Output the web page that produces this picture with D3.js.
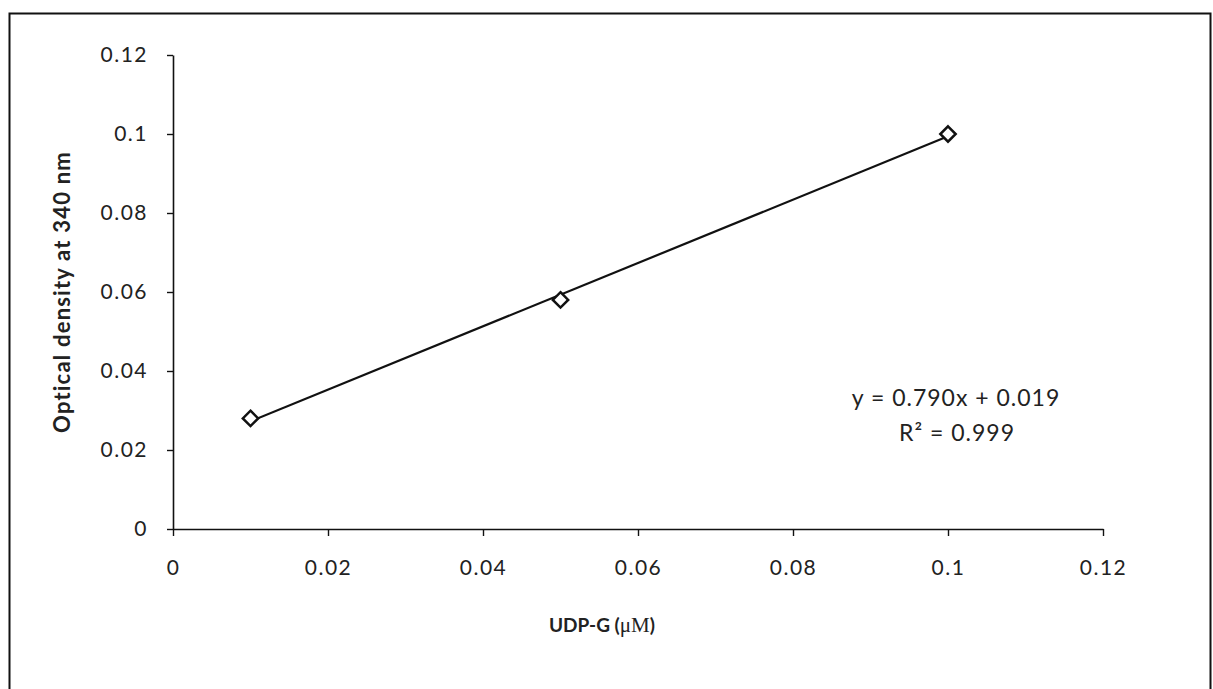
<!DOCTYPE html>
<html>
<head>
<meta charset="utf-8">
<script src="https://cdn.jsdelivr.net/npm/d3@7"></script>
<style>
  body { margin: 0; background: #fff; }
  svg text { font-family: Lato, "Open Sans", "Liberation Sans", sans-serif; fill: #222; }
</style>
</head>
<body>
<svg id="chart" width="1213" height="689"></svg>
<script>
const udpG = [0.01, 0.05, 0.1];
const opticalDensity = [0.028, 0.058, 0.1];
const xTicks = [0, 0.02, 0.04, 0.06, 0.08, 0.1, 0.12];
const yTicks = [0, 0.02, 0.04, 0.06, 0.08, 0.1, 0.12];
const equationLabels = ['y = 0.790x + 0.019', 'R² = 0.999'];

const margin = { top: 55, right: 110, bottom: 160, left: 173 };
const W = 1213, H = 689;

const svg = d3.select('#chart');

// outer frame of the scanned figure
svg.append('rect')
  .attr('x', 9.5).attr('y', 13.5)
  .attr('width', 1201).attr('height', 700)
  .attr('fill', 'none').attr('stroke', '#111').attr('stroke-width', 2);

const x = d3.scaleLinear().domain([0, 0.12]).range([margin.left, W - margin.right]);
const y = d3.scaleLinear().domain([0, 0.12]).range([H - margin.bottom, margin.top]);

const fmt = d => d === 0 ? '0' : String(+d.toFixed(2));

const xAxis = svg.append('g')
  .attr('transform', `translate(0,${y(0)})`)
  .call(d3.axisBottom(x).tickValues(xTicks).tickFormat(fmt).tickSize(7).tickSizeOuter(0).tickPadding(24));
const yAxis = svg.append('g')
  .attr('transform', `translate(${x(0)},0)`)
  .call(d3.axisLeft(y).tickValues(yTicks).tickFormat(fmt).tickSize(6).tickSizeOuter(0).tickPadding(19));

[xAxis, yAxis].forEach(g => {
  g.select('.domain').attr('stroke', '#111').attr('stroke-width', 1.6);
  g.selectAll('.tick line').attr('stroke', '#111').attr('stroke-width', 1.4);
  g.selectAll('.tick text').attr('font-size', 21).attr('fill', '#222')
    .style('letter-spacing', '1.5px')
    .style('font-family', 'Lato, "Open Sans", sans-serif');
});

// least-squares trendline through the points
const mx = d3.mean(udpG), my = d3.mean(opticalDensity);
const sxy = d3.sum(udpG, (v, i) => (v - mx) * (opticalDensity[i] - my));
const sxx = d3.sum(udpG, v => (v - mx) ** 2);
const slope = sxy / sxx, icpt = my - slope * mx;
const xExt = d3.extent(udpG);

svg.append('line')
  .attr('x1', x(xExt[0])).attr('y1', y(slope * xExt[0] + icpt))
  .attr('x2', x(xExt[1])).attr('y2', y(slope * xExt[1] + icpt))
  .attr('stroke', '#111').attr('stroke-width', 2.2);

svg.selectAll('path.pt')
  .data(udpG.map((v, i) => [v, opticalDensity[i]]))
  .join('path')
  .attr('class', 'pt')
  .attr('transform', d => `translate(${x(d[0])},${y(d[1])})`)
  .attr('d', d3.symbol(d3.symbolDiamond2, 150))
  .attr('fill', '#fff').attr('stroke', '#111').attr('stroke-width', 2.5);

// equation
svg.append('text')
  .attr('x', 956).attr('y', 406)
  .attr('text-anchor', 'middle').attr('font-size', 23)
  .style('letter-spacing', '1px')
  .text(equationLabels[0]);
svg.append('text')
  .attr('x', 957).attr('y', 441)
  .attr('text-anchor', 'middle').attr('font-size', 23)
  .style('letter-spacing', '1px')
  .text(equationLabels[1]);

// axis titles
const xt = svg.append('text')
  .attr('x', 602).attr('y', 632)
  .attr('text-anchor', 'middle').attr('font-size', 19).attr('font-weight', 'bold');
xt.append('tspan').text('UDP-G (');
xt.append('tspan').style('font-family', '"Liberation Serif", serif').attr('font-weight', 'normal').attr('font-size', 21).text('μM');
xt.append('tspan').text(')');

svg.append('text')
  .attr('transform', 'translate(70,292) rotate(-90)')
  .attr('text-anchor', 'middle').attr('font-size', 22).attr('font-weight', 'bold')
  .style('letter-spacing', '1.2px')
  .text('Optical density at 340 nm');
</script>
</body>
</html>
